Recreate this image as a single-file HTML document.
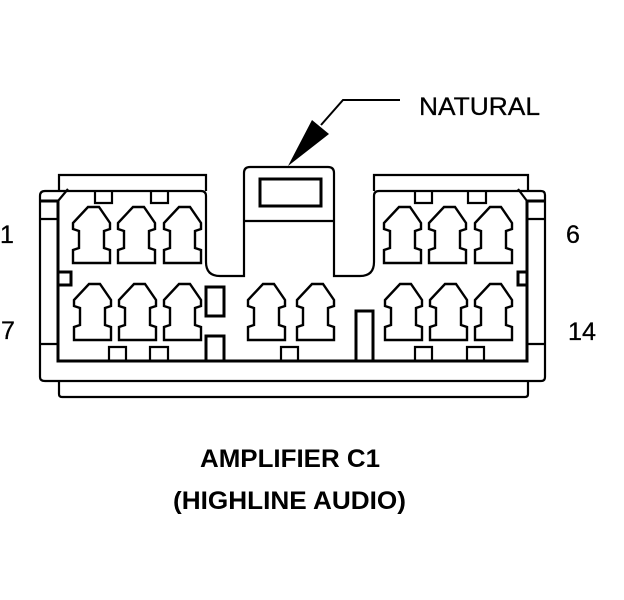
<!DOCTYPE html>
<html><head><meta charset="utf-8">
<style>
html,body{margin:0;padding:0;background:#fff;width:624px;height:600px;overflow:hidden}
svg{display:block}
text{font-family:"Liberation Sans",sans-serif;fill:#000}
</style></head>
<body>
<svg width="624" height="600" viewBox="0 0 624 600" xmlns="http://www.w3.org/2000/svg">
<defs>
<path id="p" d="M15,0 L26,0 L37,16 L37,22 L31,24 L31,41 L37,43 L37,56 L0,56 L0,43 L6,41 L6,24 L0,22 L0,16 Z" fill="#fff" stroke="#000" stroke-width="2.4"/>
</defs>
<rect width="624" height="600" fill="#fff"/>
<g fill="none" stroke="#000" stroke-width="2.2">
<!-- bottom skirt -->
<path d="M59,382 V394 Q59,397 62,397 H525 Q528,397 528,394 V382"/>
<!-- top tabs -->
<path d="M59,191 V175 H206 V191"/>
<path d="M374,191 V175 H528 V191"/>
<!-- outer shell with cut-out -->
<path d="M206,196 V262 Q206,276 220,276 H244 V173 Q244,167 250,167 H328 Q334,167 334,173 V276 H360 Q374,276 374,262 V196 Q374,191 379,191 H541 Q545,191 545,195 V377 Q545,381 541,381 H45 Q40,381 40,377 V196 Q40,191 45,191 H201 Q206,191 206,196 Z"/>
<path d="M244,221 H334"/>
<!-- side detail -->
<path d="M40,219 H58 M40,344 H58 M527,219 H545 M527,344 H545"/>
<path d="M58,201 L68,189 M527,201 L518,189"/>
<!-- tabs -->
<path d="M95,191 V203 H112 V191"/>
<path d="M151,191 V203 H168 V191"/>
<path d="M415,191 V203 H432 V191"/>
<path d="M468,191 V203 H486 V191"/>
<path d="M109,361 V347 H126 V361"/>
<path d="M150,361 V347 H168 V361"/>
<path d="M281,361 V347 H298 V361"/>
<path d="M415,361 V347 H432 V361"/>
<path d="M467,361 V347 H484 V361"/>
</g>
<g fill="none" stroke="#000" stroke-width="3">
<path d="M40,201 H58 M527,201 H545"/>
<path d="M58,201 V361 H527 V201"/>
<rect x="260" y="179" width="61" height="27"/>
<path d="M59,272 H71 V285 H59"/>
<path d="M527,272 H518 V285 H527"/>
<rect x="206" y="287" width="18" height="29"/>
<path d="M206,361 V336 H224 V361"/>
<path d="M356,361 V311 H373 V361"/>
</g>
<!-- pins -->
<use href="#p" x="73" y="207"/><use href="#p" x="118" y="207"/><use href="#p" x="164" y="207"/>
<use href="#p" x="384" y="207"/><use href="#p" x="429" y="207"/><use href="#p" x="475" y="207"/>
<use href="#p" x="74" y="284"/><use href="#p" x="119" y="284"/><use href="#p" x="164" y="284"/>
<use href="#p" x="248" y="284"/><use href="#p" x="297" y="284"/>
<use href="#p" x="385" y="284"/><use href="#p" x="430" y="284"/><use href="#p" x="475" y="284"/>
<!-- arrow -->
<path d="M400,100 H343 L321,125" fill="none" stroke="#000" stroke-width="2"/>
<polygon points="288,166 312,120 329,134" fill="#000"/>
<!-- labels -->
<text x="419" y="115" font-size="25" textLength="121" lengthAdjust="spacingAndGlyphs" stroke="#000" stroke-width=".3">NATURAL</text>
<text x="0" y="243" font-size="25" stroke="#000" stroke-width=".3">1</text>
<text x="566" y="243" font-size="25" stroke="#000" stroke-width=".3">6</text>
<text x="1" y="339" font-size="25" stroke="#000" stroke-width=".3">7</text>
<text x="568" y="340" font-size="25" textLength="28" lengthAdjust="spacingAndGlyphs" stroke="#000" stroke-width=".3">14</text>
<text x="200" y="467" font-size="25" font-weight="700" textLength="180" lengthAdjust="spacingAndGlyphs">AMPLIFIER C1</text>
<text x="173" y="509" font-size="25" font-weight="700" textLength="233" lengthAdjust="spacingAndGlyphs">(HIGHLINE AUDIO)</text>
</svg>
</body></html>
